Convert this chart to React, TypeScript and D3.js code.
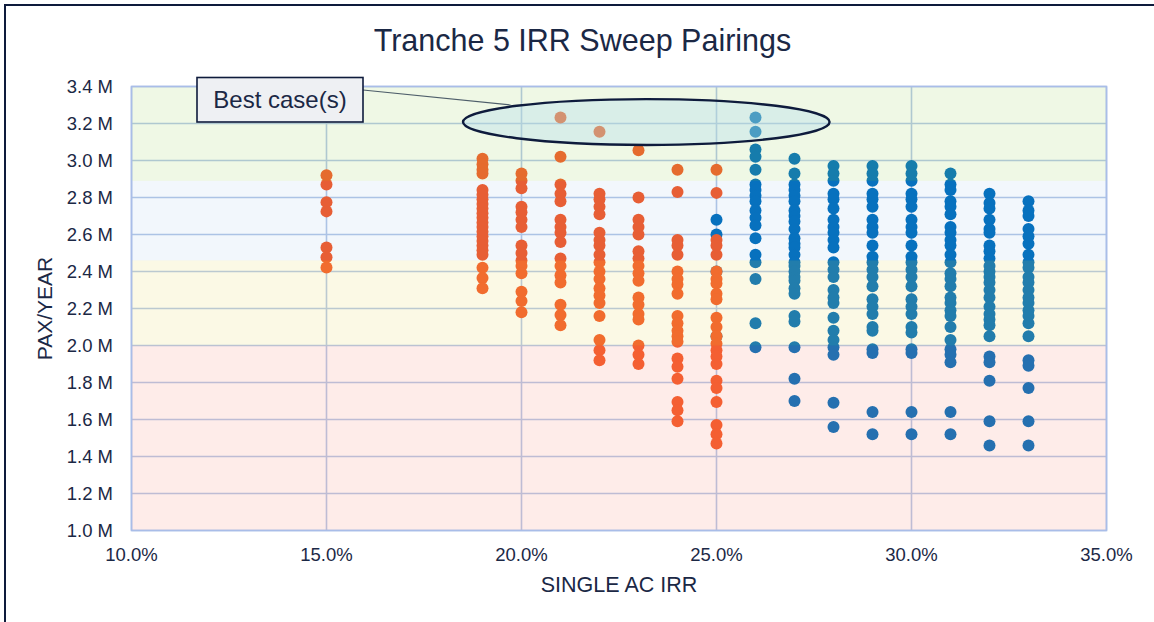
import React from "react";
import * as d3 from "d3";

const W = 1154;
const H = 622;

// ---- data ----
const xTicks = [0.10, 0.15, 0.20, 0.25, 0.30, 0.35];
const yTicks = [1.0, 1.2, 1.4, 1.6, 1.8, 2.0, 2.2, 2.4, 2.6, 2.8, 3.0, 3.2, 3.4];

// background bands (PAX/YEAR thresholds, millions)
const bandLow = [1.0, 2.0, 2.46, 2.89];
const bandHigh = [2.0, 2.46, 2.89, 3.4];
const bandColors = ["rgb(245,130,110)", "rgb(230,215,80)", "rgb(91,155,213)", "rgb(146,208,80)"];
const bandOpacity = [0.15, 0.15, 0.08, 0.15];

// orange series: [IRR, PAX/YEAR values]
const orangeColumns: [number, number[]][] = [
  [0.15, [2.92, 2.87, 2.775, 2.725, 2.53, 2.477, 2.421]],
  [0.19, [3.01, 2.98, 2.95, 2.93, 2.84, 2.815, 2.79, 2.765, 2.74, 2.715, 2.69, 2.665, 2.64, 2.615, 2.59, 2.565, 2.54, 2.515, 2.49, 2.42, 2.365, 2.31]],
  [0.20, [2.93, 2.89, 2.85, 2.75, 2.72, 2.68, 2.64, 2.54, 2.50, 2.46, 2.43, 2.39, 2.29, 2.24, 2.18]],
  [0.21, [3.02, 2.87, 2.82, 2.78, 2.68, 2.64, 2.61, 2.56, 2.47, 2.43, 2.38, 2.34, 2.22, 2.165, 2.11]],
  [0.22, [2.82, 2.79, 2.75, 2.71, 2.61, 2.57, 2.54, 2.49, 2.45, 2.40, 2.36, 2.31, 2.27, 2.23, 2.16, 2.03, 1.975, 1.92]],
  [0.23, [3.055, 2.80, 2.68, 2.64, 2.60, 2.51, 2.47, 2.43, 2.39, 2.35, 2.26, 2.22, 2.17, 2.14, 2.00, 1.95, 1.90]],
  [0.24, [2.95, 2.83, 2.57, 2.54, 2.49, 2.40, 2.36, 2.33, 2.28, 2.16, 2.12, 2.08, 2.05, 2.02, 1.93, 1.885, 1.82, 1.695, 1.65, 1.59]],
  [0.25, [2.95, 2.825, 2.57, 2.54, 2.49, 2.40, 2.36, 2.335, 2.28, 2.25, 2.15, 2.10, 2.05, 2.01, 1.975, 1.94, 1.90, 1.81, 1.77, 1.695, 1.57, 1.52, 1.47]],
];

// blue series: [IRR, PAX/YEAR values]
const blueColumns: [number, number[]][] = [
  [0.25, [2.68, 2.60, 2.40, 2.05]],
  [0.26, [3.06, 3.02, 2.95, 2.87, 2.84, 2.81, 2.78, 2.73, 2.69, 2.65, 2.58, 2.49, 2.45, 2.36, 2.12, 1.99]],
  [0.27, [3.01, 2.93, 2.87, 2.84, 2.81, 2.78, 2.73, 2.70, 2.67, 2.63, 2.58, 2.55, 2.53, 2.49, 2.45, 2.43, 2.40, 2.37, 2.35, 2.31, 2.28, 2.16, 2.13, 1.99, 1.82, 1.70]],
  [0.28, [2.97, 2.93, 2.89, 2.82, 2.79, 2.74, 2.68, 2.64, 2.61, 2.57, 2.53, 2.45, 2.41, 2.37, 2.30, 2.26, 2.23, 2.15, 2.08, 2.03, 1.99, 1.95, 1.69, 1.56]],
  [0.29, [2.97, 2.93, 2.89, 2.82, 2.79, 2.75, 2.68, 2.64, 2.61, 2.54, 2.48, 2.45, 2.41, 2.37, 2.32, 2.25, 2.21, 2.17, 2.10, 2.08, 1.98, 1.96, 1.64, 1.52]],
  [0.30, [2.97, 2.93, 2.89, 2.82, 2.79, 2.75, 2.68, 2.64, 2.61, 2.54, 2.48, 2.45, 2.41, 2.37, 2.32, 2.25, 2.21, 2.17, 2.10, 2.07, 1.98, 1.96, 1.64, 1.52]],
  [0.31, [2.93, 2.87, 2.84, 2.78, 2.75, 2.71, 2.64, 2.61, 2.57, 2.54, 2.49, 2.45, 2.39, 2.36, 2.32, 2.26, 2.23, 2.19, 2.16, 2.10, 2.03, 1.98, 1.95, 1.91, 1.64, 1.52]],
  [0.32, [2.82, 2.77, 2.74, 2.68, 2.63, 2.61, 2.54, 2.51, 2.47, 2.43, 2.40, 2.37, 2.34, 2.30, 2.26, 2.21, 2.17, 2.14, 2.11, 2.05, 1.94, 1.91, 1.81, 1.59, 1.46]],
  [0.33, [2.78, 2.73, 2.70, 2.63, 2.59, 2.55, 2.49, 2.45, 2.42, 2.37, 2.34, 2.30, 2.26, 2.23, 2.19, 2.16, 2.12, 2.05, 1.92, 1.89, 1.77, 1.59, 1.46]],
];

// best cases (highlighted)
const bestOrange: [number, number][] = [[0.21, 3.233], [0.22, 3.155]];
const bestBlue: [number, number][] = [[0.26, 3.233], [0.26, 3.155]];

const TITLE = "Tranche 5 IRR Sweep Pairings";
const X_TITLE = "SINGLE AC IRR";
const Y_TITLE = "PAX/YEAR";
const CALLOUT = "Best case(s)";

const ORANGE = "rgb(244,90,40)";
const BLUE = "rgb(0,110,188)";
const NAVY = "#0E1B3C";
const TEXT = "#1B2845";
const GRID = "#B4C7E7";
const FONT = "'Liberation Sans', Arial, sans-serif";

export default function App() {
  const left = 131.5, right = 1106.5, top = 86.5, bottom = 530.5;
  const x = d3.scaleLinear().domain([0.10, 0.35]).range([left, right]);
  const y = d3.scaleLinear().domain([1.0, 3.4]).range([bottom, top]);
  const r = 6;

  const flatten = (cols: [number, number[]][]) =>
    cols.flatMap(([irr, vals]) => vals.map((v) => [irr, v] as [number, number]));
  const orangePts = [...flatten(orangeColumns), ...bestOrange];
  const bluePts = [...flatten(blueColumns), ...bestBlue];

  // callout ellipse around best cases
  const ellCx = x(0.232), ellCy = y(3.208);
  const ellRx = x(0.232) - x(0.185), ellRy = y(3.084) - y(3.208);

  return (
    <svg width={W} height={H} style={{ position: "absolute", left: 0, top: 0, background: "#fff" }} fontFamily={FONT}>
      <rect x={0} y={0} width={W} height={H} fill="#fff" />
      <rect x={5} y={5} width={1300} height={800} fill="#fff" stroke={NAVY} strokeWidth={2} />

      <text x={582.5} y={51} textAnchor="middle" fontSize={30.5} fill={TEXT}>{TITLE}</text>

      {/* gridlines */}
      {yTicks.map((t) => (
        <line key={"gy" + t} x1={left} x2={right} y1={y(t)} y2={y(t)} stroke={GRID} strokeWidth={1.6} />
      ))}
      {xTicks.map((t) => (
        <line key={"gx" + t} x1={x(t)} x2={x(t)} y1={top} y2={bottom} stroke={GRID} strokeWidth={1.6} />
      ))}

      {/* points */}
      {bluePts.map(([a, b], i) => (
        <circle key={"b" + i} cx={x(a)} cy={y(b)} r={r} fill={BLUE} />
      ))}
      {orangePts.map(([a, b], i) => (
        <circle key={"o" + i} cx={x(a)} cy={y(b)} r={r} fill={ORANGE} />
      ))}

      {/* bands overlay */}
      {bandLow.map((lo, i) => (
        <rect key={"band" + i} x={left} width={right - left} y={y(bandHigh[i])} height={y(lo) - y(bandHigh[i])}
          fill={bandColors[i]} fillOpacity={bandOpacity[i]} />
      ))}

      {/* plot border */}
      <rect x={left} y={top} width={right - left} height={bottom - top} fill="none" stroke="#A9BDE8" strokeWidth={1.6} />

      {/* y ticks */}
      {yTicks.map((t) => (
        <text key={"yl" + t} x={113} y={y(t)} dy="0.35em" textAnchor="end" fontSize={18.5} fill={TEXT}>
          {d3.format(".1f")(t) + " M"}
        </text>
      ))}
      {/* x ticks */}
      {xTicks.map((t) => (
        <text key={"xl" + t} x={x(t)} y={561} textAnchor="middle" fontSize={18.5} fill={TEXT}>
          {d3.format(".1%")(t)}
        </text>
      ))}

      <text x={(left + right) / 2} y={592} textAnchor="middle" fontSize={21.5} fill={TEXT}>{X_TITLE}</text>
      <text transform={`translate(52,${(top + bottom) / 2}) rotate(-90)`} textAnchor="middle" fontSize={21} fill={TEXT}>{Y_TITLE}</text>

      {/* callout */}
      <line x1={363} y1={90} x2={x(0.1) + 379} y2={105} stroke="#4E5E6A" strokeWidth={1.2} />
      <ellipse cx={ellCx} cy={ellCy} rx={ellRx} ry={ellRy} fill="rgb(178,220,239)" fillOpacity={0.35} stroke={NAVY} strokeWidth={2.4} />
      <rect x={197} y={77.5} width={166} height={44.5} fill="#EEF0F3" stroke={NAVY} strokeWidth={1.6} />
      <text x={280} y={100} dy="0.35em" textAnchor="middle" fontSize={24} fill={TEXT}>{CALLOUT}</text>
    </svg>
  );
}
